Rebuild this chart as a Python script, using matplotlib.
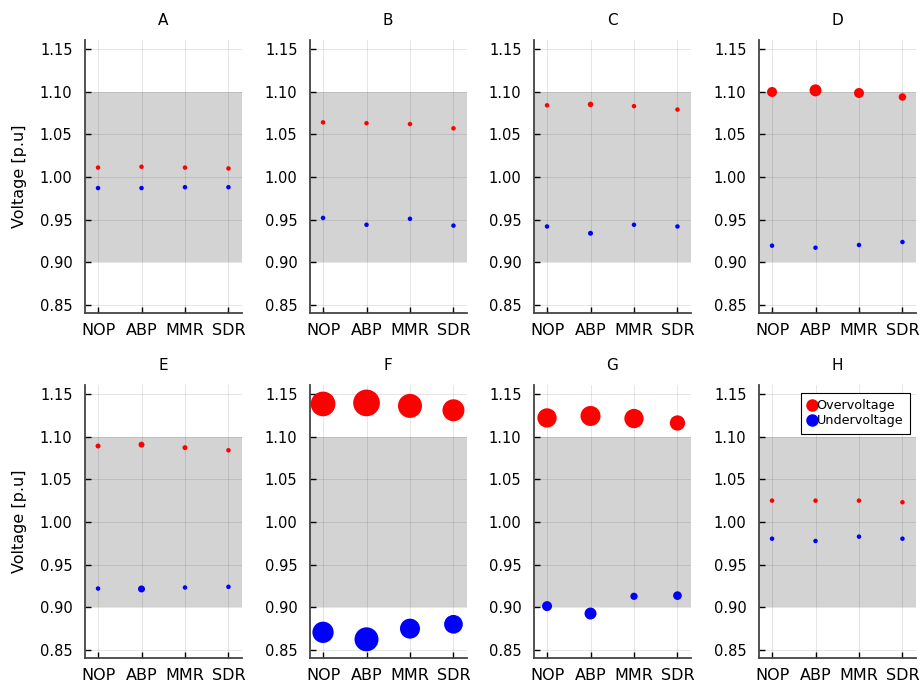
import matplotlib
matplotlib.use("Agg")
import matplotlib.pyplot as plt
from matplotlib.lines import Line2D

# Data
methods = ["NOP", "ABP", "MMR", "SDR"]
panels = ["A", "B", "C", "D", "E", "F", "G", "H"]

over_A = [1.011, 1.012, 1.011, 1.010]
under_A = [0.987, 0.987, 0.988, 0.988]
over_B = [1.064, 1.063, 1.062, 1.057]
under_B = [0.952, 0.944, 0.951, 0.943]
over_C = [1.084, 1.085, 1.083, 1.079]
under_C = [0.942, 0.934, 0.944, 0.942]
over_D = [1.0996, 1.1015, 1.0984, 1.0937]
under_D = [0.9195, 0.9171, 0.9203, 0.9238]
over_E = [1.089, 1.0906, 1.0871, 1.084]
under_E = [0.922, 0.9215, 0.9232, 0.924]
over_F = [1.1383, 1.1395, 1.136, 1.1309]
under_F = [0.8707, 0.8625, 0.875, 0.8801]
over_G = [1.1219, 1.1242, 1.1212, 1.116]
under_G = [0.9014, 0.8927, 0.9129, 0.9137]
over_H = [1.025, 1.025, 1.025, 1.0231]
under_H = [0.9804, 0.9777, 0.9828, 0.9804]

# marker diameters (pixels) as drawn in the reference
size_over = {
    "A": [4.5, 4.5, 4.5, 4.5], "B": [4.5, 4.5, 4.5, 4.5],
    "C": [4.5, 5.5, 4.5, 4.5], "D": [10, 12, 10, 7.5],
    "E": [5, 6, 5, 4.5], "F": [24.7, 26.7, 24, 22],
    "G": [19.3, 20, 19.3, 15.3], "H": [4.5, 4.5, 4.5, 4.5],
}
size_under = {
    "A": [4.5, 4.5, 4.5, 4.5], "B": [4.5, 4.5, 4.5, 4.5],
    "C": [4.5, 5, 4.5, 4.5], "D": [4.5, 4.5, 4.5, 4.5],
    "E": [4.5, 7, 4.5, 4.5], "F": [21.3, 24, 20, 18.7],
    "G": [10, 12, 7.3, 8.7], "H": [4.5, 4.5, 4.5, 4.5],
}

over = dict(zip(panels, [over_A, over_B, over_C, over_D, over_E, over_F, over_G, over_H]))
under = dict(zip(panels, [under_A, under_B, under_C, under_D, under_E, under_F, under_G, under_H]))

W, H = 921, 688
fig = plt.figure(figsize=(W / 100, H / 100), dpi=100)

lefts = [85, 310, 534, 759]
tops = [40, 385]
aw, ah = 156.5, 273

x = list(range(len(methods)))
yticks = [0.85, 0.90, 0.95, 1.00, 1.05, 1.10, 1.15]


def px2s(d):
    return (d * 0.72) ** 2


for i, p in enumerate(panels):
    r, c = divmod(i, 4)
    ax = fig.add_axes([lefts[c] / W, (H - tops[r] - ah) / H, aw / W, ah / H])
    ax.axhspan(0.9, 1.1, color="#d3d3d3", zorder=0.2, lw=0)
    ax.scatter(x, over[p], s=[px2s(d) for d in size_over[p]], color="red",
               linewidths=0, zorder=3)
    ax.scatter(x, under[p], s=[px2s(d) for d in size_under[p]], color="blue",
               linewidths=0, zorder=3)
    ax.set_xlim(-0.3, 3.3)
    ax.set_ylim(0.8406, 1.1605)
    ax.set_xticks(x)
    ax.set_xticklabels(methods, fontsize=11.5)
    ax.set_yticks(yticks)
    ax.set_yticklabels(["%.2f" % v for v in yticks], fontsize=10.5)
    ax.grid(True, color="black", alpha=0.1, lw=0.7)
    ax.set_axisbelow(True)
    for s in ["top", "right"]:
        ax.spines[s].set_visible(False)
    for s in ["left", "bottom"]:
        ax.spines[s].set_color("#444444")
        ax.spines[s].set_linewidth(1.3)
    ax.tick_params(axis="both", direction="in", length=4, width=1, color="black")
    ax.tick_params(axis="x", pad=7)
    ax.tick_params(axis="y", pad=9)
    ax.set_title(p, fontsize=11, pad=11)
    if c == 0:
        fig.text(20 / W, 1 - (tops[r] + ah / 2) / H, "Voltage [p.u]", rotation=90,
                 ha="center", va="center", fontsize=11.5)
    if p == "H":
        handles = [
            Line2D([], [], ls="none", marker="o", color="red", markersize=9,
                   markeredgewidth=0, label="Overvoltage"),
            Line2D([], [], ls="none", marker="o", color="blue", markersize=9,
                   markeredgewidth=0, label="Undervoltage"),
        ]
        leg = ax.legend(handles=handles, loc="upper right",
                        bbox_to_anchor=(0.962, 0.9706), borderaxespad=0,
                        fontsize=9.2, handlelength=0.7, handletextpad=0.0,
                        labelspacing=0.15, borderpad=0.5, fancybox=False,
                        framealpha=1, edgecolor="black")
        leg.get_frame().set_linewidth(0.8)

fig.savefig("out.png", dpi=100)
